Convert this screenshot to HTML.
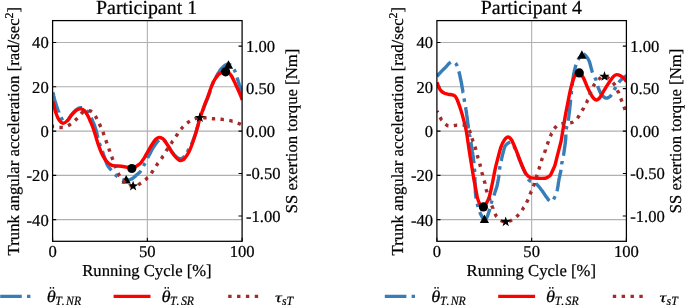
<!DOCTYPE html>
<html><head><meta charset="utf-8"><title>chart</title>
<style>
html,body{margin:0;padding:0;background:#fff;}
body{width:685px;height:305px;overflow:hidden;font-family:"Liberation Serif",serif;}
svg{display:block;font-family:"Liberation Serif",serif;will-change:transform;text-rendering:geometricPrecision;}
text{fill:#000;stroke:#000;stroke-width:0.22px;}
</style></head><body>
<svg width="685" height="305" viewBox="0 0 685 305">
<rect width="685" height="305" fill="#fff"/>
<clipPath id="c1"><rect x="52.60" y="20.60" width="189.50" height="220.70"/></clipPath>
<path d="M147.35,20.60 V241.30 M52.60,42.54 H242.10 M52.60,86.82 H242.10 M52.60,131.10 H242.10 M52.60,175.38 H242.10 M52.60,219.66 H242.10" stroke="#b0b0b0" stroke-width="1.1" fill="none"/>
<path d="M52.60,42.54 h3.6 M52.60,86.82 h3.6 M52.60,131.10 h3.6 M52.60,175.38 h3.6 M52.60,219.66 h3.6 M242.10,46.15 h-3.6 M242.10,88.62 h-3.6 M242.10,131.10 h-3.6 M242.10,173.57 h-3.6 M242.10,216.05 h-3.6 M52.60,241.30 v-3.6 M147.35,241.30 v-3.6 M242.10,241.30 v-3.6" stroke="#000" stroke-width="1.1" fill="none"/>
<g clip-path="url(#c1)" fill="none" stroke-linejoin="round" stroke-width="3.4">
<path d="M52.9,92.0 L53.1,93.1 L53.3,94.0 L53.6,95.0 L53.8,96.1 L54.1,97.3 L54.3,98.4 L54.6,99.6 L54.9,100.7 L55.2,101.6 L55.5,102.6 L55.8,103.6 L56.1,104.6 L56.4,105.6 L56.8,106.6 L57.1,107.6 L57.4,108.5 L57.8,109.4 L58.1,110.3 L58.5,111.4 L58.9,112.4 L58.9,112.5 M61.1,117.3 L61.6,118.4 L62.1,119.5 L62.6,120.3 M66.8,121.2 L67.5,120.6 L68.2,119.8 L68.8,119.0 L69.3,118.1 L69.9,117.1 L70.5,116.2 L71.1,115.3 L71.7,114.5 L72.4,113.6 L73.1,112.8 L73.9,112.0 L74.6,111.2 L75.4,110.5 L76.1,109.9 L76.9,109.2 L77.8,108.7 L78.7,108.2 L79.6,107.9 L80.8,107.7 L81.9,107.8 L82.1,107.8 M86.7,110.4 L87.4,111.1 L88.1,111.8 L88.7,112.6 L88.9,112.9 M91.2,117.7 L91.7,118.8 L92.1,119.8 L92.5,120.6 L92.9,121.6 L93.3,122.5 L93.7,123.5 L94.1,124.5 L94.5,125.5 L94.8,126.4 L95.1,127.4 L95.5,128.5 L95.8,129.3 L96.0,130.3 L96.4,131.5 L96.6,132.5 L96.9,133.4 L97.1,134.4 L97.4,135.4 L97.6,136.4 L97.9,137.5 L98.0,137.9 M99.4,143.1 L99.7,144.1 L100.1,145.2 L100.4,146.2 L100.4,146.2 M102.3,151.2 L102.7,152.2 L103.1,153.2 L103.4,154.3 L103.8,155.3 L104.1,156.2 L104.4,157.1 L104.8,158.0 L105.1,158.9 L105.4,159.9 L105.8,160.9 L106.1,161.9 L106.4,162.8 L106.8,163.8 L107.2,164.7 L107.7,165.6 L108.2,166.4 L108.8,167.2 L109.4,168.0 L110.1,168.7 L110.7,169.5 L111.4,170.3 M115.0,174.5 L115.7,175.2 L116.5,175.8 L117.3,176.5 L117.6,176.7 M122.3,179.5 L123.4,179.8 L124.3,180.1 L125.3,180.2 L126.2,180.2 L127.3,180.2 L128.3,180.0 L129.4,179.8 L130.3,179.5 L131.2,179.2 L132.0,178.7 L133.1,178.0 L134.0,177.3 L134.8,176.6 L135.6,175.9 L136.5,175.1 L137.3,174.4 L138.0,173.8 L138.7,173.1 L139.5,172.5 L140.3,171.7 L141.0,170.8 M143.5,166.1 L144.0,165.1 L144.5,164.2 L145.0,163.2 L145.1,163.1 M147.6,158.3 L147.9,157.4 L148.4,156.5 L148.9,155.6 L149.3,154.8 L149.8,153.9 L150.3,152.9 L150.8,151.9 L151.4,150.8 L151.9,149.8 L152.5,148.9 L153.0,148.0 L153.6,147.0 L154.3,146.0 L154.9,145.1 L155.5,144.2 L156.2,143.3 L156.7,142.5 L157.4,141.6 L158.2,140.7 L158.9,140.0 M163.7,139.8 L164.5,140.5 L165.2,141.4 L165.8,142.2 L165.9,142.4 M168.8,146.9 L169.3,147.7 L169.9,148.6 L170.4,149.5 L171.0,150.4 L171.5,151.2 L172.1,152.0 L172.8,152.9 L173.5,153.7 L174.1,154.5 L174.8,155.3 L175.4,155.9 L176.3,156.8 L177.2,157.6 L178.0,158.0 L178.8,158.4 L179.8,158.7 L180.8,158.7 L181.7,158.4 L182.6,158.0 L183.5,157.3 L184.1,156.6 L184.2,156.6 M187.2,152.1 L187.8,151.1 L188.3,150.2 L188.8,149.3 L188.9,149.2 M191.5,144.5 L191.8,143.7 L192.2,142.8 L192.6,141.8 L193.0,140.8 L193.3,139.8 L193.7,138.8 L194.1,137.8 L194.4,136.9 L194.7,135.9 L195.1,135.0 L195.4,134.0 L195.8,132.9 L196.1,131.9 L196.5,130.6 L196.8,129.6 L197.2,128.4 L197.4,127.5 L197.7,126.5 L198.0,125.5 L198.3,124.5 L198.4,124.1 M199.9,119.0 L200.3,117.9 L200.6,116.9 L201.0,115.8 L201.0,115.8 M202.8,110.7 L203.2,109.6 L203.6,108.6 L203.9,107.6 L204.3,106.7 L204.6,105.8 L205.0,104.9 L205.4,103.8 L205.8,102.9 L206.2,101.9 L206.6,100.9 L207.1,99.8 L207.5,98.7 L208.0,97.5 L208.4,96.4 L208.7,95.5 L209.1,94.5 L209.4,93.5 L209.8,92.4 L210.1,91.3 L210.4,90.5 M212.1,85.4 L212.5,84.5 L212.8,83.6 L213.2,82.5 L213.3,82.3 M215.8,77.5 L216.3,76.6 L216.8,75.7 L217.3,74.8 L217.8,73.9 L218.3,73.0 L218.9,72.1 L219.4,71.3 L219.9,70.5 L220.6,69.6 L221.2,68.8 L221.9,68.1 L222.6,67.4 L223.3,66.7 L224.1,66.0 L224.9,65.4 L225.7,64.9 L226.6,64.4 L227.5,64.1 L228.5,64.2 L229.6,64.6 L230.5,65.1 L230.6,65.2 M234.0,69.3 L234.6,70.3 L235.0,71.3 L235.4,72.4 L235.4,72.4 M237.0,77.5 L237.4,78.7 L237.7,79.6 L238.0,80.6 L238.3,81.6 L238.7,82.7 L239.0,83.7 L239.3,84.8 L239.7,85.8 L240.0,86.8 L240.3,87.8 L240.5,88.7 L240.8,89.6 L241.2,90.9 L241.5,92.1 L241.8,93.1 L242.1,94.2 L242.3,95.0" stroke="#377eb8"/>
<path d="M52.90,101.10 C53.40,103.08 54.85,109.82 55.90,113.00 C56.95,116.18 58.00,118.48 59.20,120.20 C60.40,121.92 61.78,123.18 63.10,123.30 C64.42,123.42 65.67,122.30 67.10,120.90 C68.53,119.50 70.17,116.67 71.70,114.90 C73.23,113.13 74.77,111.30 76.30,110.30 C77.83,109.30 79.48,108.78 80.90,108.90 C82.32,109.02 83.60,109.77 84.80,111.00 C86.00,112.23 87.12,114.43 88.10,116.30 C89.08,118.17 89.97,120.50 90.70,122.20 C91.43,123.90 91.85,124.78 92.50,126.50 C93.15,128.22 93.70,129.68 94.60,132.50 C95.50,135.32 96.78,140.07 97.90,143.40 C99.02,146.73 100.10,149.82 101.30,152.50 C102.50,155.18 103.90,157.70 105.10,159.50 C106.30,161.30 107.33,162.32 108.50,163.30 C109.67,164.28 110.77,164.95 112.10,165.40 C113.43,165.85 114.97,165.87 116.50,166.00 C118.03,166.13 119.40,165.98 121.30,166.20 C123.20,166.42 126.15,166.95 127.90,167.30 C129.65,167.65 130.62,168.32 131.80,168.30 C132.98,168.28 133.90,167.77 135.00,167.20 C136.10,166.63 137.47,165.58 138.40,164.90 C139.33,164.22 139.73,164.10 140.60,163.10 C141.47,162.10 142.73,160.22 143.60,158.90 C144.47,157.58 144.55,157.35 145.80,155.20 C147.05,153.05 149.57,148.52 151.10,146.00 C152.63,143.48 153.93,141.42 155.00,140.10 C156.07,138.78 156.73,138.53 157.50,138.10 C158.27,137.67 158.85,137.48 159.60,137.50 C160.35,137.52 161.23,137.77 162.00,138.20 C162.77,138.63 163.17,138.80 164.20,140.10 C165.23,141.40 166.88,143.92 168.20,146.00 C169.52,148.08 170.80,150.68 172.10,152.60 C173.40,154.52 175.02,156.38 176.00,157.50 C176.98,158.62 177.27,158.78 178.00,159.30 C178.73,159.82 179.57,160.52 180.40,160.60 C181.23,160.68 182.27,160.18 183.00,159.80 C183.73,159.42 183.83,159.55 184.80,158.30 C185.77,157.05 187.60,154.60 188.80,152.30 C190.00,150.00 191.02,147.12 192.00,144.50 C192.98,141.88 193.95,138.92 194.70,136.60 C195.45,134.28 195.65,133.57 196.50,130.60 C197.35,127.63 198.48,123.02 199.80,118.80 C201.12,114.58 203.12,108.85 204.40,105.30 C205.68,101.75 206.05,101.28 207.50,97.50 C208.95,93.72 211.28,86.40 213.10,82.60 C214.92,78.80 216.92,76.42 218.40,74.70 C219.88,72.98 220.80,72.85 222.00,72.30 C223.20,71.75 224.52,71.37 225.60,71.40 C226.68,71.43 227.52,71.73 228.50,72.50 C229.48,73.27 230.35,74.10 231.50,76.00 C232.65,77.90 233.98,80.90 235.40,83.90 C236.82,86.90 238.85,91.32 240.00,94.00 C241.15,96.68 241.92,99.00 242.30,100.00" stroke="#ff0000"/>
</g>
<path d="M126.20,174.90 L121.60,183.50 L130.80,183.50 Z M228.50,60.20 L223.90,68.80 L233.10,68.80 Z" fill="#000"/>
<circle cx="131.80" cy="168.50" r="4.6" fill="#000"/>
<circle cx="225.60" cy="71.80" r="4.6" fill="#000"/>
<path clip-path="url(#c1)" d="M52.8,126.2 L53.8,126.5 L54.1,126.5 M59.4,127.5 L60.5,127.5 L61.5,127.5 L62.5,127.4 L62.8,127.4 M68.0,125.8 L68.9,125.3 L69.7,124.8 L70.6,124.1 L70.9,123.9 M75.1,120.5 L75.8,119.8 L76.5,119.1 L77.3,118.3 L77.5,118.1 M81.0,113.9 L81.6,113.3 L82.6,112.4 L83.5,111.7 M88.8,110.6 L89.9,110.8 L90.8,111.1 L91.6,111.6 L91.9,111.8 M95.3,116.0 L95.8,116.8 L96.3,117.7 L96.7,118.5 L96.9,119.0 M99.3,123.8 L99.7,124.7 L100.2,125.6 L100.6,126.5 L100.8,126.9 M102.9,131.9 L103.3,132.9 L103.6,133.8 L104.0,134.8 L104.1,135.1 M105.8,140.2 L106.2,141.2 L106.5,142.1 L106.9,143.1 L107.0,143.4 M108.8,148.5 L109.1,149.4 L109.4,150.3 L109.8,151.3 L109.9,151.7 M111.7,156.7 L112.1,157.7 L112.4,158.6 L112.8,159.6 L112.9,159.9 M114.8,165.0 L115.2,166.0 L115.5,166.9 L115.9,167.9 L116.0,168.1 M118.1,173.1 L118.6,174.1 L119.1,175.0 L119.6,175.9 L119.7,176.0 M122.9,180.4 L123.6,181.3 L124.5,182.2 L125.2,182.9 M129.8,185.6 L130.9,185.9 L131.9,186.2 L132.8,186.4 L133.1,186.4 M138.2,184.9 L139.3,184.2 L140.1,183.6 L141.0,183.0 M145.3,179.8 L146.1,179.2 L146.8,178.5 L147.5,177.7 L147.8,177.5 M151.2,173.2 L151.8,172.4 L152.4,171.5 L153.0,170.7 L153.2,170.4 M156.2,165.9 L156.8,165.0 L157.4,164.1 L158.0,163.2 L158.1,163.1 M161.3,158.7 L161.9,157.9 L162.5,157.0 L163.0,156.1 L163.2,155.9 M166.1,151.2 L166.6,150.3 L167.2,149.5 L167.7,148.6 L167.9,148.3 M171.0,143.8 L171.6,142.9 L172.1,142.1 L172.7,141.2 L172.9,141.0 M175.9,136.4 L176.5,135.6 L177.1,134.8 L177.6,133.9 L177.8,133.6 M181.0,129.2 L181.7,128.4 L182.3,127.6 L183.0,126.9 L183.2,126.7 M187.1,123.0 L188.1,122.3 L189.0,121.7 L189.9,121.2 M194.7,118.9 L195.7,118.5 L196.8,118.1 L197.7,117.8 L197.9,117.8 M203.2,117.6 L204.4,117.7 L205.5,117.8 L206.5,117.9 L206.6,117.9 M211.9,118.6 L212.9,118.7 L214.0,118.8 L215.0,118.9 L215.2,118.9 M220.5,119.2 L221.5,119.3 L222.5,119.4 L223.6,119.6 L223.9,119.6 M229.3,120.4 L230.4,120.6 L231.4,120.9 L232.5,121.2 L232.6,121.2 M237.7,123.1 L238.7,123.5 L239.7,123.9 L240.6,124.3 L240.8,124.4" stroke="#a52a2a" fill="none" stroke-width="3.4"/>
<path d="M133.10,180.70 L134.36,184.36 L138.24,184.43 L135.14,186.76 L136.27,190.47 L133.10,188.25 L129.93,190.47 L131.06,186.76 L127.96,184.43 L131.84,184.36Z M199.80,112.30 L201.06,115.96 L204.94,116.03 L201.84,118.36 L202.97,122.07 L199.80,119.85 L196.63,122.07 L197.76,118.36 L194.66,116.03 L198.54,115.96Z" fill="#000"/>
<rect x="52.60" y="20.60" width="189.50" height="220.70" fill="none" stroke="#000" stroke-width="1.25"/>
<text x="48.70" y="48.39" font-size="16.6" text-anchor="end">40</text>
<text x="48.70" y="92.67" font-size="16.6" text-anchor="end">20</text>
<text x="48.70" y="136.95" font-size="16.6" text-anchor="end">0</text>
<text x="48.70" y="181.23" font-size="16.6" text-anchor="end">-20</text>
<text x="48.70" y="225.51" font-size="16.6" text-anchor="end">-40</text>
<text x="246.00" y="52.00" font-size="16.6" text-anchor="start">1.00</text>
<text x="246.00" y="94.47" font-size="16.6" text-anchor="start">0.50</text>
<text x="246.00" y="136.95" font-size="16.6" text-anchor="start">0.00</text>
<text x="246.00" y="179.42" font-size="16.6" text-anchor="start">-0.50</text>
<text x="246.00" y="221.90" font-size="16.6" text-anchor="start">-1.00</text>
<text x="52.60" y="256.70" font-size="16.6" text-anchor="middle">0</text>
<text x="147.35" y="256.70" font-size="16.6" text-anchor="middle">50</text>
<text x="242.10" y="256.70" font-size="16.6" text-anchor="middle">100</text>
<text x="146.55" y="13.80" font-size="19.9" text-anchor="middle">Participant 1</text>
<text x="146.95" y="276.10" font-size="16.65" text-anchor="middle">Running Cycle [%]</text>
<text transform="translate(19.00,131.15) rotate(-90)" font-size="16.76" text-anchor="middle">Trunk angular acceleration [rad/sec<tspan dy="-6" font-size="12">2</tspan><tspan dy="6">]</tspan></text>
<text transform="translate(296.70,131.00) rotate(-90)" font-size="16.7" text-anchor="middle">SS exertion torque [Nm]</text>
<path d="M0.20,296.40 h21.6 m5.2,0 h3.4" stroke="#377eb8" stroke-width="3.4" fill="none"/>
<path d="M113.60,296.40 H150.50" stroke="#ff0000" stroke-width="3.4" fill="none"/>
<path d="M228.20,296.40 H258.20" stroke="#a52a2a" stroke-width="3.4" stroke-dasharray="3.4 5.45" fill="none"/>
<text transform="translate(46.70,301.9) scale(1.07,0.96)" font-size="17.2" font-style="italic">θ</text><text transform="translate(55.30,305) scale(0.93,1)" font-size="12.7" font-style="italic">T<tspan dx="0.9">.</tspan><tspan dx="1.4">NR</tspan></text><circle cx="50.50" cy="287.80" r="0.85" fill="#000"/><circle cx="53.40" cy="287.80" r="0.85" fill="#000"/>
<text transform="translate(161.50,301.9) scale(1.07,0.96)" font-size="17.2" font-style="italic">θ</text><text transform="translate(170.10,305) scale(0.93,1)" font-size="12.7" font-style="italic">T<tspan dx="0.9">.</tspan><tspan dx="1.4">SR</tspan></text><circle cx="165.30" cy="287.80" r="0.85" fill="#000"/><circle cx="168.20" cy="287.80" r="0.85" fill="#000"/>
<text transform="translate(275.00,301.9) scale(1.1,0.82)" font-size="17.2" font-style="italic">τ</text><text transform="translate(282.00,305) scale(0.93,1)" font-size="12.7" font-style="italic">sT</text>
<clipPath id="c2"><rect x="436.90" y="20.60" width="189.50" height="220.70"/></clipPath>
<path d="M531.65,20.60 V241.30 M436.90,42.54 H626.40 M436.90,86.82 H626.40 M436.90,131.10 H626.40 M436.90,175.38 H626.40 M436.90,219.66 H626.40" stroke="#b0b0b0" stroke-width="1.1" fill="none"/>
<path d="M436.90,42.54 h3.6 M436.90,86.82 h3.6 M436.90,131.10 h3.6 M436.90,175.38 h3.6 M436.90,219.66 h3.6 M626.40,46.15 h-3.6 M626.40,88.62 h-3.6 M626.40,131.10 h-3.6 M626.40,173.57 h-3.6 M626.40,216.05 h-3.6 M436.90,241.30 v-3.6 M531.65,241.30 v-3.6 M626.40,241.30 v-3.6" stroke="#000" stroke-width="1.1" fill="none"/>
<g clip-path="url(#c2)" fill="none" stroke-linejoin="round" stroke-width="3.4">
<path d="M437.0,76.3 L437.6,75.6 L438.2,74.9 L438.9,74.1 L439.7,73.2 L440.5,72.4 L441.2,71.6 L441.9,70.9 L442.7,70.1 L443.5,69.3 L444.3,68.6 L445.0,67.9 L445.8,67.1 L446.6,66.2 L447.2,65.5 L447.9,64.6 L448.6,63.9 L449.4,63.2 L450.3,62.5 L450.8,62.2 M455.5,63.2 L456.2,64.0 L456.8,65.2 L457.2,66.2 M458.8,71.4 L459.1,72.3 L459.3,73.2 L459.5,74.1 L459.8,75.1 L460.0,76.1 L460.2,77.1 L460.4,78.1 L460.6,79.2 L460.9,80.3 L461.1,81.3 L461.3,82.3 L461.5,83.3 L461.6,84.4 L461.8,85.5 L462.0,86.6 L462.2,87.6 L462.4,88.7 L462.6,89.8 L462.8,90.8 L462.9,91.7 L463.1,92.8 L463.2,93.0 M464.0,98.4 L464.2,99.4 L464.4,100.4 L464.5,101.4 L464.6,101.8 M465.6,107.2 L465.7,108.1 L465.9,109.1 L466.0,110.0 L466.2,111.1 L466.3,112.1 L466.5,113.2 L466.6,114.2 L466.8,115.3 L466.9,116.3 L467.0,117.3 L467.2,118.4 L467.3,119.4 L467.5,120.5 L467.6,121.6 L467.7,122.6 L467.9,123.7 L468.0,124.7 L468.1,125.7 L468.3,126.7 L468.4,127.7 L468.5,128.4 M469.3,133.6 L469.5,134.8 L469.7,135.8 L469.9,136.7 L469.9,136.9 M470.8,142.1 L471.0,143.0 L471.2,144.1 L471.4,145.2 L471.5,146.3 L471.7,147.3 L471.9,148.3 L472.0,149.3 L472.2,150.4 L472.3,151.5 L472.5,152.5 L472.7,153.6 L472.8,154.7 L473.0,155.8 L473.1,156.8 L473.3,157.8 L473.4,158.8 L473.5,159.7 L473.6,160.9 L473.8,161.9 L473.9,162.9 L473.9,163.3 M474.4,168.6 L474.5,169.5 L474.6,170.4 L474.6,171.4 L474.6,171.9 M474.8,177.2 L474.9,178.4 L474.9,179.5 L474.9,180.6 L475.0,181.6 L475.0,182.7 L475.1,183.7 L475.1,184.8 L475.2,185.9 L475.2,186.9 L475.2,188.0 L475.3,189.1 L475.3,190.2 L475.4,191.3 L475.4,192.3 L475.5,193.3 L475.6,194.3 L475.7,195.2 L475.8,196.3 L476.0,197.5 L476.1,198.5 M477.3,203.7 L477.5,204.7 L477.8,205.8 L478.0,206.9 L478.0,207.0 M479.7,212.0 L480.1,212.9 L480.6,213.9 L481.1,214.9 L481.6,215.9 L482.0,216.7 L482.6,217.7 L483.3,218.8 L484.2,219.4 L485.2,219.2 L486.0,218.5 L486.7,217.8 L487.3,216.5 L487.7,215.5 L488.0,214.6 L488.3,213.6 L488.7,212.5 L489.1,211.4 L489.4,210.3 L489.7,209.3 L489.8,208.9 M491.1,203.7 L491.4,202.8 L491.7,201.8 L492.0,200.8 L492.1,200.5 M493.9,195.5 L494.2,194.6 L494.5,193.7 L494.8,192.8 L495.1,191.8 L495.5,190.8 L495.8,189.8 L496.1,188.8 L496.5,187.7 L496.8,186.7 L497.0,185.7 L497.3,184.7 L497.5,183.6 L497.7,182.6 L497.9,181.6 L498.1,180.5 L498.3,179.5 L498.5,178.5 L498.6,177.5 L498.8,176.5 L498.9,175.6 L499.0,174.8 M499.6,169.6 L499.7,168.6 L499.8,167.6 L500.0,166.7 L500.1,166.2 M501.1,160.9 L501.4,159.9 L501.6,158.9 L501.8,157.9 L502.1,156.8 L502.3,155.6 L502.6,154.5 L502.9,153.3 L503.2,152.2 L503.5,151.1 L503.7,150.1 L504.0,149.2 L504.3,148.1 L504.8,146.8 L505.4,145.7 L506.1,144.8 L506.8,144.2 L507.6,143.4 L508.5,142.8 L509.3,142.5 L510.3,142.2 M513.8,146.1 L514.3,147.1 L514.9,148.2 L515.3,149.1 M517.5,154.1 L517.8,155.0 L518.2,156.0 L518.5,157.0 L518.9,158.0 L519.2,159.0 L519.6,160.0 L520.0,160.9 L520.3,161.8 L520.8,162.8 L521.2,163.9 L521.6,164.9 L522.0,165.8 L522.4,166.8 L522.8,167.7 L523.2,168.6 L523.6,169.5 L524.1,170.5 L524.6,171.6 L525.1,172.6 L525.5,173.5 L525.9,174.3 M528.4,179.2 L528.9,180.0 L529.7,180.7 L530.5,181.2 L531.0,181.4 M535.9,183.7 L536.8,184.4 L537.5,185.1 L538.2,185.9 L538.9,186.7 L539.6,187.5 L540.2,188.3 L540.9,189.2 L541.5,190.0 L542.2,190.8 L542.8,191.7 L543.4,192.6 L544.0,193.5 L544.6,194.4 L545.2,195.3 L545.7,196.1 L546.4,197.0 L547.1,197.9 L547.7,198.8 L548.3,199.7 L548.9,200.4 L549.4,200.9 M553.5,199.3 L554.1,198.3 L554.7,197.2 L555.1,196.3 M556.9,191.2 L557.2,190.1 L557.4,189.1 L557.6,188.1 L557.8,187.1 L558.0,186.1 L558.1,185.0 L558.3,183.9 L558.4,182.9 L558.6,181.8 L558.8,180.7 L558.9,179.7 L559.1,178.7 L559.4,177.6 L559.6,176.6 L559.8,175.5 L560.0,174.5 L560.3,173.5 L560.5,172.5 L560.7,171.5 L560.9,170.6 L561.0,169.7 M561.7,164.3 L561.8,163.2 L562.0,162.3 L562.2,161.3 L562.2,161.0 M563.4,155.8 L563.6,154.7 L563.7,153.8 L563.9,152.8 L564.0,151.7 L564.2,150.6 L564.4,149.4 L564.5,148.2 L564.7,147.1 L564.9,145.9 L565.0,144.7 L565.2,143.6 L565.3,142.6 L565.4,141.6 L565.5,140.5 L565.7,139.4 L565.7,138.4 L565.8,137.3 L565.8,136.2 L565.8,135.2 L565.8,134.6 M566.2,129.3 L566.4,128.3 L566.6,127.3 L566.8,126.3 L566.9,126.0 M568.1,120.8 L568.3,119.7 L568.5,118.7 L568.6,117.6 L568.8,116.5 L568.9,115.4 L569.0,114.3 L569.1,113.3 L569.3,112.3 L569.4,111.3 L569.5,110.3 L569.7,109.1 L569.8,108.0 L569.9,106.9 L570.0,105.7 L570.2,104.7 L570.3,103.5 L570.4,102.6 L570.4,101.6 L570.5,100.6 L570.6,99.6 M571.2,94.3 L571.3,93.3 L571.4,92.1 L571.5,91.1 L571.5,91.0 M572.1,85.7 L572.3,84.5 L572.4,83.4 L572.5,82.3 L572.6,81.2 L572.8,80.2 L572.9,79.2 L573.1,78.2 L573.2,77.2 L573.4,76.3 L573.5,75.2 L573.8,74.0 L574.0,72.9 L574.2,71.8 L574.4,70.7 L574.7,69.7 L574.9,68.7 L575.2,67.8 L575.4,66.9 L575.7,65.7 L576.0,64.7 M578.0,59.9 L578.6,58.9 L579.2,57.9 L579.7,57.0 M583.5,54.1 L584.5,54.6 L585.4,55.3 L586.2,56.3 L586.8,57.1 L587.5,58.0 L588.1,58.9 L588.6,59.9 L589.0,60.7 L589.4,61.7 L589.7,62.6 L590.0,63.5 L590.2,64.5 L590.5,65.6 L590.8,66.7 L591.1,67.9 L591.4,69.0 L591.7,70.1 L592.0,71.1 L592.3,72.0 L592.5,72.6 M594.9,77.5 L595.3,78.5 L595.7,79.4 L596.1,80.3 L596.2,80.7 M597.7,86.0 L598.0,86.9 L598.3,87.8 L598.7,88.8 L599.1,89.8 L599.5,90.8 L599.9,91.7 L600.4,92.6 L600.8,93.5 L601.3,94.3 L602.0,95.1 L602.7,96.0 L603.5,96.7 L604.3,97.3 L605.1,97.8 L606.0,98.1 L607.1,98.1 L608.1,97.7 L609.0,97.2 L609.9,96.6 L610.8,95.7 L611.5,94.7 L611.5,94.7 M614.1,90.0 L614.6,89.1 L615.2,88.1 L615.7,87.2 L615.8,87.0 M618.8,82.5 L619.4,81.6 L620.0,80.9 L620.8,80.1 L621.7,79.3 L622.6,78.5 L623.5,77.9 L624.3,77.3 L625.1,76.6 L625.9,76.0 L626.4,75.8" stroke="#377eb8"/>
<path d="M437.00,82.20 C437.32,83.10 438.20,86.13 438.90,87.60 C439.60,89.07 440.27,90.05 441.20,91.00 C442.13,91.95 443.28,92.75 444.50,93.30 C445.72,93.85 447.18,94.03 448.50,94.30 C449.82,94.57 451.27,94.55 452.40,94.90 C453.53,95.25 454.48,95.55 455.30,96.40 C456.12,97.25 456.35,97.65 457.30,100.00 C458.25,102.35 459.83,106.78 461.00,110.50 C462.17,114.22 463.42,118.87 464.30,122.30 C465.18,125.73 465.75,128.25 466.30,131.10 C466.85,133.95 467.05,135.73 467.60,139.40 C468.15,143.07 468.83,148.18 469.60,153.10 C470.37,158.02 471.48,164.52 472.20,168.90 C472.92,173.28 473.40,176.55 473.90,179.40 C474.40,182.25 474.60,182.88 475.20,186.00 C475.80,189.12 476.68,194.98 477.50,198.10 C478.32,201.22 479.15,203.17 480.10,204.70 C481.05,206.23 482.22,207.42 483.20,207.30 C484.18,207.18 484.98,205.75 486.00,204.00 C487.02,202.25 488.20,200.47 489.30,196.80 C490.40,193.13 491.62,186.65 492.60,182.00 C493.58,177.35 494.33,172.83 495.20,168.90 C496.07,164.97 496.82,162.12 497.80,158.40 C498.78,154.68 500.00,149.67 501.10,146.60 C502.20,143.53 503.25,141.60 504.40,140.00 C505.55,138.40 506.80,137.00 508.00,137.00 C509.20,137.00 510.23,137.75 511.60,140.00 C512.97,142.25 514.77,147.00 516.20,150.50 C517.63,154.00 518.88,157.72 520.20,161.00 C521.52,164.28 523.00,167.90 524.10,170.20 C525.20,172.50 525.90,173.63 526.80,174.80 C527.70,175.97 528.73,176.68 529.50,177.20 C530.27,177.72 530.10,177.72 531.40,177.90 C532.70,178.08 535.00,178.25 537.30,178.30 C539.60,178.35 543.33,178.48 545.20,178.20 C547.07,177.92 547.62,177.13 548.50,176.60 C549.38,176.07 549.73,176.18 550.50,175.00 C551.27,173.82 552.35,171.17 553.10,169.50 C553.85,167.83 554.35,167.07 555.00,165.00 C555.65,162.93 556.22,160.17 557.00,157.10 C557.78,154.03 558.98,149.45 559.70,146.60 C560.42,143.75 560.80,142.57 561.30,140.00 C561.80,137.43 562.15,134.53 562.70,131.20 C563.25,127.87 564.08,123.03 564.60,120.00 C565.12,116.97 565.22,116.12 565.80,113.00 C566.38,109.88 567.27,105.45 568.10,101.30 C568.93,97.15 569.82,92.05 570.80,88.10 C571.78,84.15 573.05,80.00 574.00,77.60 C574.95,75.20 575.62,74.55 576.50,73.70 C577.38,72.85 578.17,71.85 579.30,72.50 C580.43,73.15 581.98,75.22 583.30,77.60 C584.62,79.98 585.90,83.95 587.20,86.80 C588.50,89.65 590.00,92.75 591.10,94.70 C592.20,96.65 592.92,97.62 593.80,98.50 C594.68,99.38 595.53,100.00 596.40,100.00 C597.27,100.00 598.13,99.38 599.00,98.50 C599.87,97.62 600.40,96.65 601.60,94.70 C602.80,92.75 604.55,89.43 606.20,86.80 C607.85,84.17 610.20,80.70 611.50,78.90 C612.80,77.10 613.12,76.72 614.00,76.00 C614.88,75.28 615.80,74.68 616.80,74.60 C617.80,74.52 618.92,74.97 620.00,75.50 C621.08,76.03 622.23,76.78 623.30,77.80 C624.37,78.82 625.88,80.97 626.40,81.60" stroke="#ff0000"/>
</g>
<path d="M484.40,214.50 L479.80,223.10 L489.00,223.10 Z M581.90,50.20 L577.30,58.80 L586.50,58.80 Z" fill="#000"/>
<circle cx="483.40" cy="206.90" r="4.6" fill="#000"/>
<circle cx="579.30" cy="72.90" r="4.6" fill="#000"/>
<path clip-path="url(#c2)" d="M437.0,111.0 L437.4,111.8 L437.7,112.4 M440.0,117.3 L440.6,118.2 L441.1,119.1 L441.7,120.0 L441.9,120.2 M445.5,124.2 L446.4,124.9 L447.2,125.4 L448.2,125.9 L448.4,125.9 M453.8,125.7 L454.8,125.5 L455.8,125.4 L456.9,125.2 L457.2,125.2 M462.6,124.9 L463.7,125.0 L464.6,125.3 L465.5,125.7 L465.8,125.9 M469.1,130.1 L469.7,131.2 L470.1,132.3 L470.4,133.2 M472.0,138.3 L472.4,139.5 L472.7,140.4 L473.0,141.4 L473.1,141.5 M474.9,146.7 L475.2,147.5 L475.5,148.5 L475.8,149.5 L475.9,149.9 M477.3,155.1 L477.5,156.1 L477.8,157.1 L478.1,158.1 L478.2,158.4 M479.7,163.6 L479.9,164.5 L480.2,165.5 L480.4,166.5 L480.5,166.8 M481.8,172.1 L482.1,173.2 L482.4,174.2 L482.7,175.2 L482.7,175.3 M484.2,180.5 L484.5,181.7 L484.8,182.6 L485.0,183.6 L485.0,183.8 M486.1,189.1 L486.3,189.9 L486.6,190.9 L486.9,191.9 L487.0,192.3 M489.0,197.3 L489.3,198.2 L489.7,199.2 L490.0,200.2 L490.1,200.5 M491.9,205.6 L492.2,206.6 L492.6,207.6 L493.0,208.6 L493.0,208.7 M495.1,213.7 L495.6,214.8 L496.0,215.7 L496.6,216.6 L496.7,216.7 M500.6,220.4 L501.4,220.8 L502.4,221.2 L503.4,221.6 L503.7,221.6 M509.0,221.4 L509.9,221.0 L511.0,220.5 L512.0,219.9 L512.0,219.9 M516.4,216.8 L517.3,216.0 L518.0,215.3 L518.7,214.5 L518.8,214.4 M522.1,210.1 L522.6,209.3 L523.2,208.4 L523.7,207.5 L523.9,207.3 M526.6,202.6 L527.1,201.5 L527.6,200.6 L528.0,199.7 L528.1,199.5 M530.0,194.4 L530.5,193.3 L530.9,192.4 L531.2,191.4 L531.3,191.3 M533.3,186.3 L533.8,185.1 L534.1,184.2 L534.5,183.2 L534.5,183.1 M536.1,177.9 L536.4,177.0 L536.7,176.0 L537.0,175.0 L537.1,174.7 M538.8,169.5 L539.1,168.6 L539.4,167.6 L539.7,166.6 L539.8,166.3 M541.4,161.1 L541.7,160.0 L542.0,159.1 L542.4,158.1 L542.5,157.9 M544.4,152.8 L544.8,151.8 L545.1,150.9 L545.5,149.9 L545.5,149.6 M547.2,144.5 L547.6,143.6 L547.9,142.6 L548.3,141.6 L548.4,141.3 M550.3,136.3 L550.7,135.4 L551.2,134.5 L551.6,133.5 L551.8,133.3 M554.4,128.6 L555.1,127.7 L555.7,127.0 L556.5,126.2 L556.6,126.1 M561.5,124.0 L562.5,123.7 L563.5,123.4 L564.6,123.2 L564.8,123.2 M570.2,122.8 L571.2,122.7 L572.1,122.4 L573.0,122.0 L573.3,121.8 M577.4,118.2 L578.1,117.2 L578.7,116.3 L579.2,115.6 L579.3,115.4 M582.1,110.7 L582.6,109.8 L583.1,108.9 L583.6,108.0 L583.7,107.7 M586.4,103.0 L586.9,101.9 L587.3,101.0 L587.7,100.0 L587.8,99.9 M589.7,94.8 L590.1,93.7 L590.5,92.8 L590.8,91.9 L590.9,91.6 M593.2,86.6 L593.6,85.8 L594.1,84.9 L594.6,84.1 L594.9,83.7 M598.4,79.5 L599.3,78.8 L600.0,78.2 L601.0,77.6 L601.1,77.5 M606.4,76.9 L607.5,77.4 L608.4,78.1 L609.2,78.7 M613.0,82.6 L613.7,83.5 L614.3,84.3 L614.8,85.2 L614.9,85.4 M617.4,90.3 L617.8,91.2 L618.2,92.1 L618.7,93.0 L618.8,93.4 M620.8,98.4 L621.2,99.4 L621.5,100.3 L621.9,101.3 L622.0,101.6 M623.9,106.7 L624.3,107.7 L624.8,109.0 L625.1,109.8 L625.1,109.9" stroke="#a52a2a" fill="none" stroke-width="3.4"/>
<path d="M505.70,216.40 L506.96,220.06 L510.84,220.13 L507.74,222.46 L508.87,226.17 L505.70,223.95 L502.53,226.17 L503.66,222.46 L500.56,220.13 L504.44,220.06Z M604.50,71.10 L605.76,74.76 L609.64,74.83 L606.54,77.16 L607.67,80.87 L604.50,78.65 L601.33,80.87 L602.46,77.16 L599.36,74.83 L603.24,74.76Z" fill="#000"/>
<rect x="436.90" y="20.60" width="189.50" height="220.70" fill="none" stroke="#000" stroke-width="1.25"/>
<text x="433.00" y="48.39" font-size="16.6" text-anchor="end">40</text>
<text x="433.00" y="92.67" font-size="16.6" text-anchor="end">20</text>
<text x="433.00" y="136.95" font-size="16.6" text-anchor="end">0</text>
<text x="433.00" y="181.23" font-size="16.6" text-anchor="end">-20</text>
<text x="433.00" y="225.51" font-size="16.6" text-anchor="end">-40</text>
<text x="630.30" y="52.00" font-size="16.6" text-anchor="start">1.00</text>
<text x="630.30" y="94.47" font-size="16.6" text-anchor="start">0.50</text>
<text x="630.30" y="136.95" font-size="16.6" text-anchor="start">0.00</text>
<text x="630.30" y="179.42" font-size="16.6" text-anchor="start">-0.50</text>
<text x="630.30" y="221.90" font-size="16.6" text-anchor="start">-1.00</text>
<text x="436.90" y="256.70" font-size="16.6" text-anchor="middle">0</text>
<text x="531.65" y="256.70" font-size="16.6" text-anchor="middle">50</text>
<text x="626.40" y="256.70" font-size="16.6" text-anchor="middle">100</text>
<text x="531.35" y="13.80" font-size="19.9" text-anchor="middle">Participant 4</text>
<text x="531.25" y="276.10" font-size="16.65" text-anchor="middle">Running Cycle [%]</text>
<text transform="translate(403.30,131.15) rotate(-90)" font-size="16.76" text-anchor="middle">Trunk angular acceleration [rad/sec<tspan dy="-6" font-size="12">2</tspan><tspan dy="6">]</tspan></text>
<text transform="translate(681.00,131.00) rotate(-90)" font-size="16.7" text-anchor="middle">SS exertion torque [Nm]</text>
<path d="M384.80,296.40 h21.6 m5.2,0 h3.4" stroke="#377eb8" stroke-width="3.4" fill="none"/>
<path d="M498.20,296.40 H535.10" stroke="#ff0000" stroke-width="3.4" fill="none"/>
<path d="M612.80,296.40 H642.80" stroke="#a52a2a" stroke-width="3.4" stroke-dasharray="3.4 5.45" fill="none"/>
<text transform="translate(431.30,301.9) scale(1.07,0.96)" font-size="17.2" font-style="italic">θ</text><text transform="translate(439.90,305) scale(0.93,1)" font-size="12.7" font-style="italic">T<tspan dx="0.9">.</tspan><tspan dx="1.4">NR</tspan></text><circle cx="435.10" cy="287.80" r="0.85" fill="#000"/><circle cx="438.00" cy="287.80" r="0.85" fill="#000"/>
<text transform="translate(546.10,301.9) scale(1.07,0.96)" font-size="17.2" font-style="italic">θ</text><text transform="translate(554.70,305) scale(0.93,1)" font-size="12.7" font-style="italic">T<tspan dx="0.9">.</tspan><tspan dx="1.4">SR</tspan></text><circle cx="549.90" cy="287.80" r="0.85" fill="#000"/><circle cx="552.80" cy="287.80" r="0.85" fill="#000"/>
<text transform="translate(659.60,301.9) scale(1.1,0.82)" font-size="17.2" font-style="italic">τ</text><text transform="translate(666.60,305) scale(0.93,1)" font-size="12.7" font-style="italic">sT</text>
</svg>
</body></html>
